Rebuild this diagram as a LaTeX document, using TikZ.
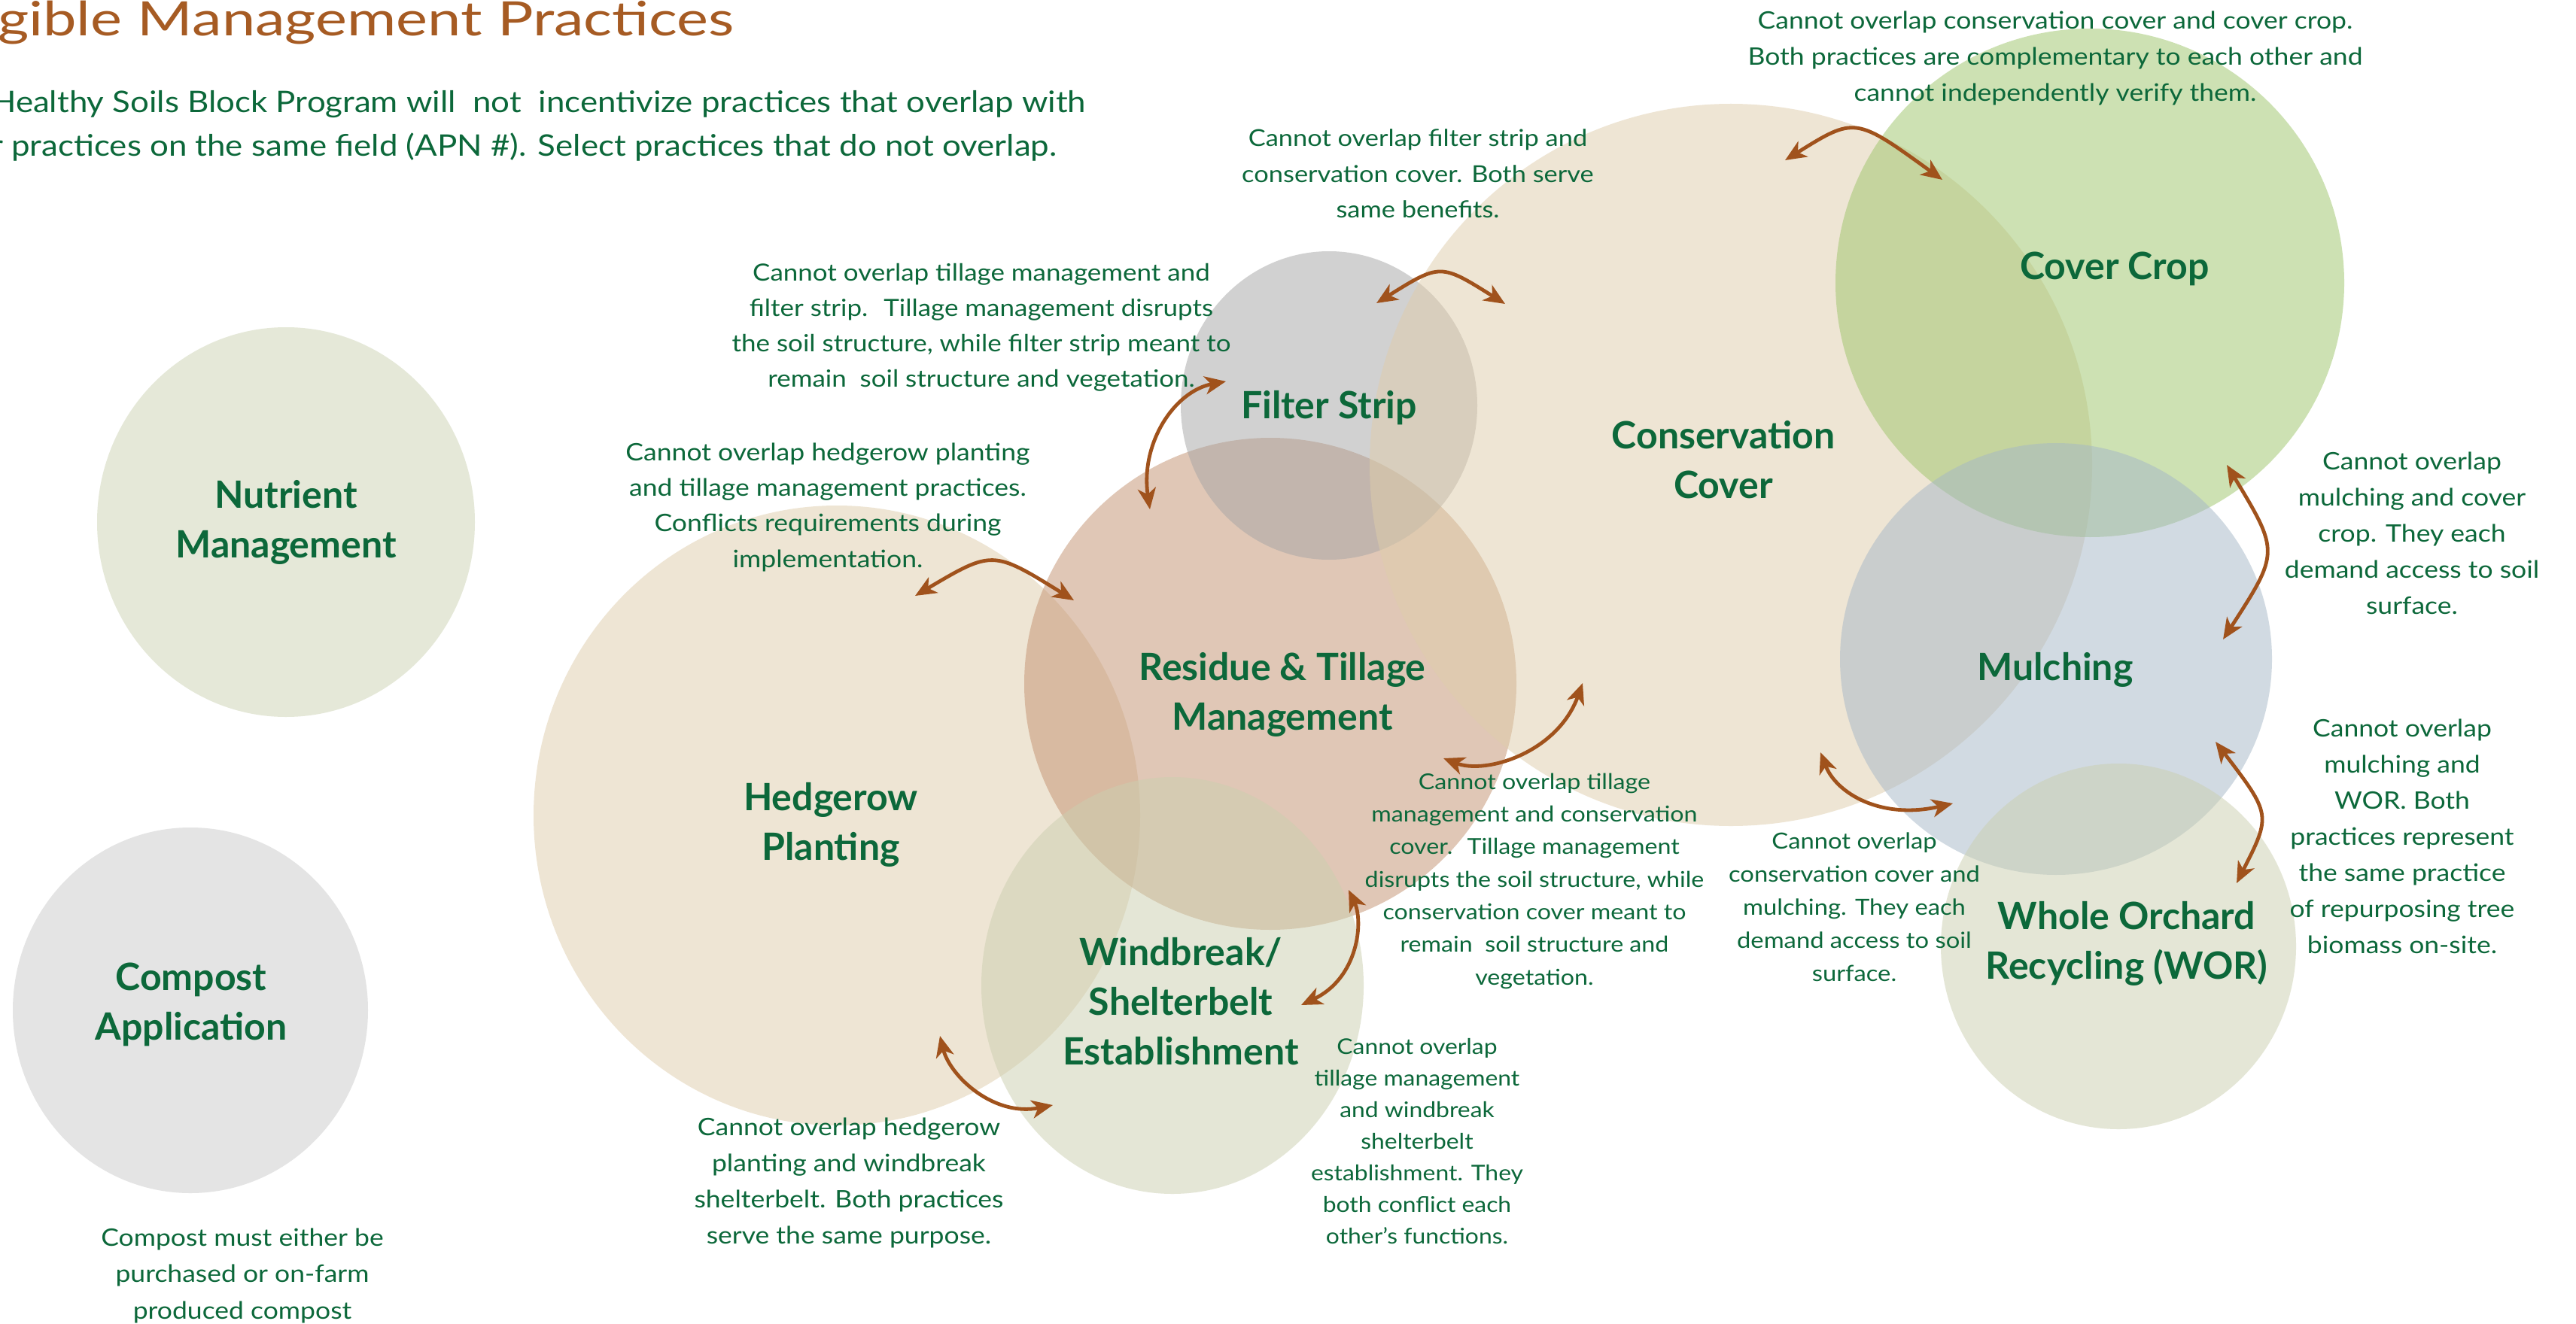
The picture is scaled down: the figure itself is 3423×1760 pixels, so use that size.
\documentclass[tikz,border=0pt]{standalone}
\usepackage{fontspec}
\setmainfont{Lato}
\newfontfamily\notefont[FakeStretch=1.11]{Lato}
\newfontfamily\titlefont[FakeStretch=1.26]{Lato}
\usetikzlibrary{arrows.meta}
\definecolor{tgreen}{RGB}{12,104,58}
\definecolor{tbrown}{RGB}{166,91,35}
\definecolor{abrown}{RGB}{160,82,28}
\definecolor{cNutr}{RGB}{229,232,216}
\definecolor{cComp}{RGB}{228,228,228}
\definecolor{cHedge}{RGB}{223,205,171}
\definecolor{cRes}{RGB}{195,145,111}
\definecolor{cFilt}{RGB}{165,165,165}
\definecolor{cWind}{RGB}{203,207,175}
\definecolor{cCons}{RGB}{223,205,171}
\definecolor{cCrop}{RGB}{157,197,105}
\definecolor{cMulch}{RGB}{165,183,199}
\definecolor{cWor}{RGB}{203,207,175}
\tikzset{
  disc/.style={draw=none, fill opacity=0.5},
  lbl/.style={font=\fontsize{50}{66}\selectfont\bfseries, text=tgreen, align=center, anchor=base, inner sep=0pt},
  note/.style={font=\notefont\fontsize{32}{48}\selectfont, text=tgreen, align=center, anchor=base, inner sep=0pt},
  smallnote/.style={font=\notefont\fontsize{29}{43.5}\selectfont, text=tgreen, align=center, anchor=base, inner sep=0pt},
  conflict/.style={draw=abrown, line width=4.8pt, {Stealth[length=28pt,width=24pt,inset=8pt]}-{Stealth[length=28pt,width=24pt,inset=8pt]}},
}
\begin{document}
\begin{tikzpicture}[x=1pt,y=-1pt]
\path[use as bounding box, fill=white] (0,0) rectangle (3423,1760);
% isolated practices
\fill[cNutr] (380,694) ellipse [x radius=251, y radius=259];
\fill[cComp] (253,1343) ellipse [x radius=236, y radius=243];
% overlapping practices
\fill[cHedge, disc] (1112,1084) ellipse [x radius=403, y radius=412];
\fill[cRes, disc] (1688,909) circle [radius=327];
\fill[cWind, disc] (1558,1310) ellipse [x radius=254, y radius=277];
\fill[cFilt, disc] (1766,539) ellipse [x radius=197, y radius=205];
\fill[cCons, disc] (2300,618) circle [radius=480];
\fill[cCrop, disc] (2777,376) circle [radius=338];
\fill[cMulch, disc] (2732,876) circle [radius=287];
\fill[cWor, disc] (2815,1258) ellipse [x radius=236, y radius=243];
% title
\node[anchor=base west, inner sep=0pt, text=tbrown, font=\titlefont\fontsize{63}{70}\selectfont] (title) at (-3,48) {gible Management Practices};
\node[anchor=base west, inner sep=0pt, text=tgreen, align=left, font=\notefont\fontsize{39.5}{58}\selectfont] (sub) at (-12,208) {Healthy Soils Block Program will~ not~ incentivize practices that overlap with\\r practices on the same field (APN \#). Select practices that do not overlap.};
% labels (anchored at the baseline of the last line)
\node[lbl] (nutr) at (380,741) {Nutrient\\Management};
\node[lbl] (comp) at (254,1382) {Compost\\Application};
\node[lbl] (hedge) at (1104,1143) {Hedgerow\\Planting};
\node[lbl] (res) at (1704,970) {Residue \& Tillage\\Management};
\node[lbl] (filt) at (1766,556) {Filter Strip};
\node[lbl] (wind) at (1569,1415) {Windbreak/\\Shelterbelt\\Establishment};
\node[lbl] (cons) at (2290,662) {Conservation\\Cover};
\node[lbl] (crop) at (2810,372) {Cover Crop};
\node[lbl] (mulch) at (2731,904) {Mulching};
\node[lbl] (wor) at (2826,1301) {Whole Orchard\\Recycling (WOR)};
% notes (anchored at the baseline of the last line)
\node[note] (nA) at (2731,135) {Cannot overlap conservation cover and cover crop.\\Both practices are complementary to each other and\\cannot independently verify them.};
\node[note, font=\notefont\fontsize{31}{47.5}\selectfont] (nB) at (1884,290) {Cannot overlap filter strip and\\conservation cover. Both serve\\same benefits.};
\node[note, font=\notefont\fontsize{31.5}{47}\selectfont] (nC) at (1304,514) {Cannot overlap tillage management and\\filter strip.~ Tillage management disrupts\\the soil structure, while filter strip meant to\\remain~ soil structure and vegetation.};
\node[note, font=\notefont\fontsize{32}{47.3}\selectfont] (nD) at (1100,754) {Cannot overlap hedgerow planting\\and tillage management practices.\\Conflicts requirements during\\implementation.};
\node[note] (nE) at (1128,1653) {Cannot overlap hedgerow\\planting and windbreak\\shelterbelt. Both practices\\serve the same purpose.};
\node[smallnote, font=\notefont\fontsize{28.7}{42}\selectfont] (nF) at (1883,1653) {Cannot overlap\\tillage management\\and windbreak\\shelterbelt\\establishment. They\\both conflict each\\other’s functions.};
\node[smallnote, font=\notefont\fontsize{29}{43.3}\selectfont] (nG) at (2039,1309) {Cannot overlap tillage\\management and conservation\\cover.~ Tillage management\\disrupts the soil structure, while\\conservation cover meant to\\remain~ soil structure and\\vegetation.};
\node[smallnote, font=\notefont\fontsize{29.5}{44}\selectfont] (nH) at (2464,1304) {Cannot overlap\\conservation cover and\\mulching. They each\\demand access to soil\\surface.};
\node[note] (nI) at (3205,816) {Cannot overlap\\mulching and cover\\crop. They each\\demand access to soil\\surface.};
\node[note] (nJ) at (3192,1267) {Cannot overlap\\mulching and\\WOR. Both\\practices represent\\the same practice\\of repurposing tree\\biomass on-site.};
\node[note, font=\notefont\fontsize{32}{48.5}\selectfont] (nK) at (322,1753) {Compost must either be\\purchased or on-farm\\produced compost};
% conflict arrows
\coordinate (a1s) at (2372,213); \coordinate (a1e) at (2581,239);
\draw[conflict] (a1s) .. controls (2465,155) .. (a1e);
\coordinate (a2s) at (1829,403); \coordinate (a2e) at (2000,404);
\draw[conflict] (a2s) .. controls (1914,350) .. (a2e);
\coordinate (a3s) at (1629,507); \coordinate (a3e) at (1528,677);
\draw[conflict] (a3s) .. controls (1560,520) and (1515,590) .. (a3e);
\coordinate (a4s) at (1216,792); \coordinate (a4e) at (1427,798);
\draw[conflict] (a4s) .. controls (1319,731) .. (a4e);
\coordinate (a5s) at (1918,1008); \coordinate (a5e) at (2103,908);
\draw[conflict] (a5s) .. controls (1975,1030) and (2070,1000) .. (a5e);
\coordinate (a6s) at (1792,1183); \coordinate (a6e) at (1729,1336);
\draw[conflict] (a6s) .. controls (1812,1225) and (1805,1300) .. (a6e);
\coordinate (a7s) at (1249,1377); \coordinate (a7e) at (1399,1469);
\draw[conflict] (a7s) .. controls (1262,1430) and (1320,1485) .. (a7e);
\coordinate (a8s) at (2419,1000); \coordinate (a8e) at (2595,1068);
\draw[conflict] (a8s) .. controls (2440,1055) and (2500,1090) .. (a8e);
\coordinate (a9s) at (2959,618); \coordinate (a9e) at (2954,850);
\draw[conflict] (a9s) .. controls (3029,734) .. (a9e);
\coordinate (a10s) at (2944,986); \coordinate (a10e) at (2972,1174);
\draw[conflict] (a10s) .. controls (3018,1083) .. (a10e);
\end{tikzpicture}
\end{document}
